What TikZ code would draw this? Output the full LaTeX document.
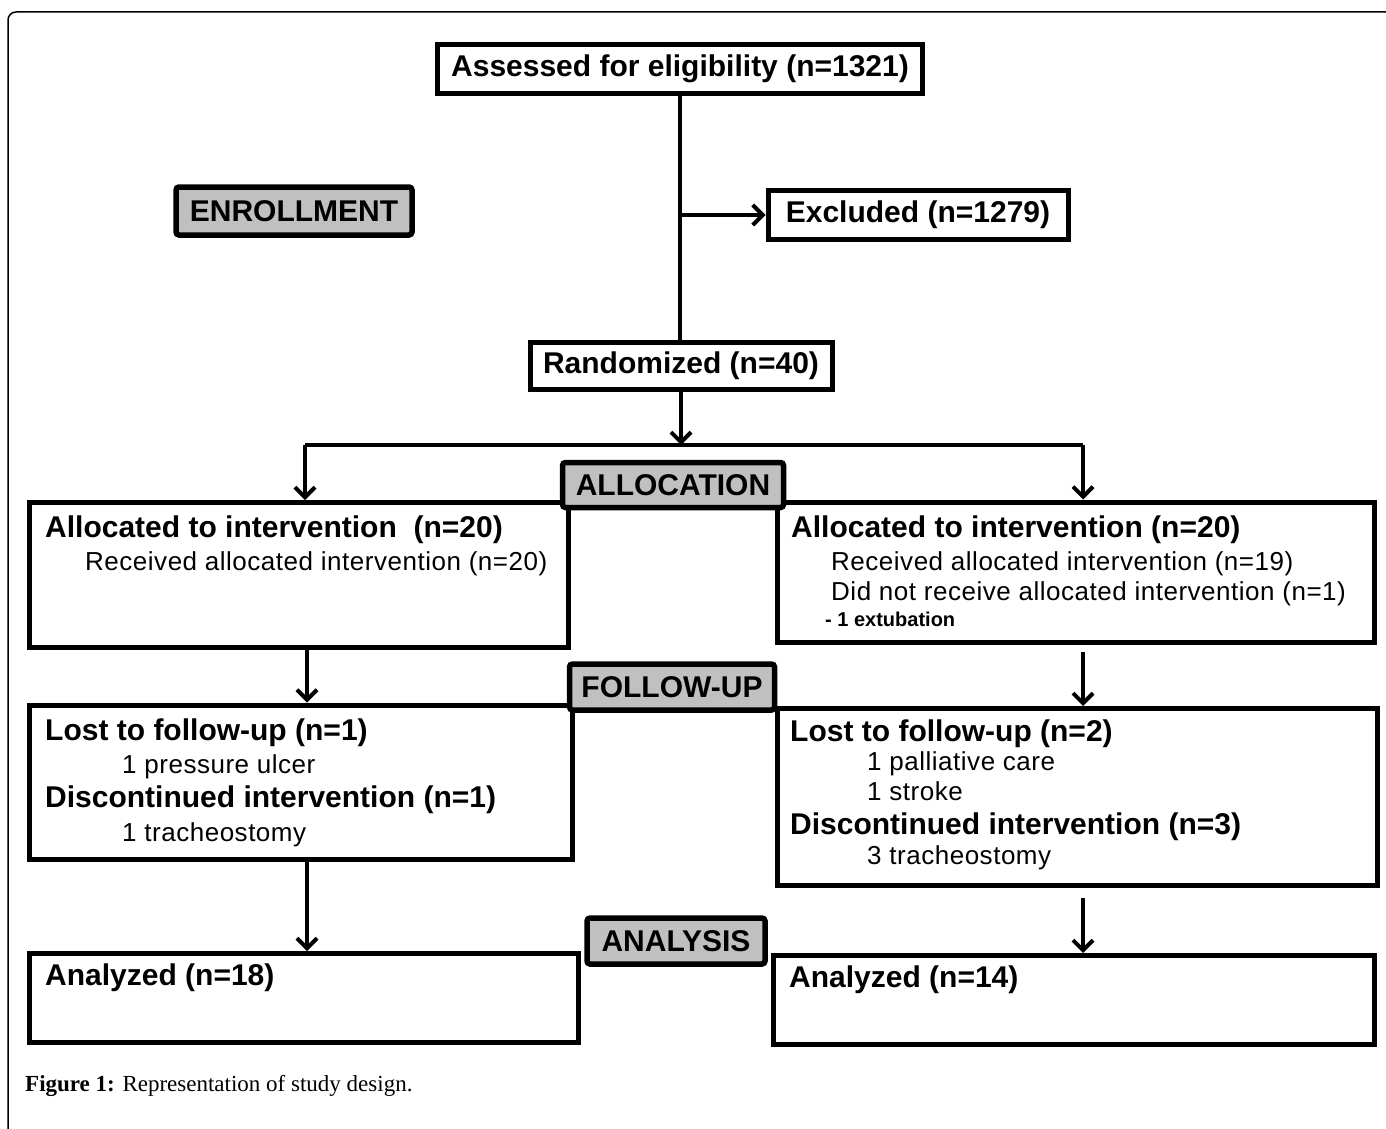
\documentclass[tikz,border=0pt]{standalone}
\usepackage{fontspec}
\setmainfont{Liberation Sans}
\newfontfamily\capfont{Liberation Serif}
\usetikzlibrary{arrows.meta}
\definecolor{phase}{RGB}{192,192,192}
\newcommand{\headfont}{\fontsize{30}{35}\selectfont\bfseries}
\newcommand{\subfont}{\fontsize{26}{30}\selectfont\addfontfeature{LetterSpace=2}}

\begin{document}
\begin{tikzpicture}[x=1pt, y=-1pt,
  box/.style={draw, line width=5pt, fill=white, inner sep=0pt, font=\headfont},
  phasebox/.style={draw, line width=5.5pt, fill=phase, rounded corners=3pt, inner sep=0pt, font=\headfont},
  line/.style={line width=4pt},
  arr/.style={line width=4pt, -{Straight Barb[length=10pt, width=20pt]}},
  head/.style={anchor=base west, inner sep=0pt, font=\headfont},
  sub/.style={anchor=base west, inner sep=0pt, font=\subfont}]
\useasboundingbox (0,0) rectangle (1386,1129);
\draw[line width=1.5pt, rounded corners=8pt] (8,1129) -- (8,12) -- (1386,12);

% enrollment
\node[box, minimum width=485, minimum height=49] (assess) at (680,69) {Assessed for eligibility (n=1321)};
\node[box, minimum width=300, minimum height=49] (excl) at (918,215) {Excluded (n=1279)};
\node[box, minimum width=302, minimum height=47] (rand) at (681,366) {Randomized (n=40)};
\node[phasebox, minimum width=236, minimum height=48] (enrol) at (294,211) {ENROLLMENT};

% group boxes
\node[box, minimum width=539, minimum height=145] (lalloc) at (299,575) {};
\node[box, minimum width=597, minimum height=140] (ralloc) at (1076,572) {};
\node[box, minimum width=543, minimum height=154] (lfollow) at (301,782) {};
\node[box, minimum width=600, minimum height=177] (rfollow) at (1077,797) {};
\node[box, minimum width=549, minimum height=89] (lanal) at (304,998) {};
\node[box, minimum width=601, minimum height=89] (ranal) at (1074,1000) {};

% phase labels
\node[phasebox, minimum width=221, minimum height=45] (alloc) at (673,485) {ALLOCATION};
\node[phasebox, minimum width=205, minimum height=46] (follow) at (672,687) {FOLLOW-UP};
\node[phasebox, minimum width=178, minimum height=46] (anal) at (676,941) {ANALYSIS};

% connectors
\coordinate (splitl) at (305,445);
\coordinate (splitr) at (1083,445);
\coordinate (colL) at (307,0);
\coordinate (colR) at (1083,0);
\draw[line] (assess.south) -- (assess.south |- rand.north);
\draw[arr] (assess.south |- excl.west) -- (excl.west);
\draw[arr] (rand.south) -- (rand.south |- splitl);
\draw[line] (splitl) -- (splitr);
\draw[arr] (splitl) -- (splitl |- lalloc.north);
\draw[arr] (splitr) -- (splitr |- ralloc.north);
\draw[arr] (colL |- lalloc.south) -- (colL |- lfollow.north);
\draw[arr, shorten <=7pt] (colR |- ralloc.south) -- (colR |- rfollow.north);
\draw[arr] (colL |- lfollow.south) -- (colL |- lanal.north);
\draw[arr, shorten <=10pt] (colR |- rfollow.south) -- (colR |- ranal.north);

% box texts
\node[head] (lalloctitle) at (45,537) {Allocated to intervention\ \ (n=20)};
\node[sub] (lallocrec) at (85,570) {Received allocated intervention (n=20)};
\node[head] (ralloctitle) at (791,537) {Allocated to intervention (n=20)};
\node[sub] (rallocrec) at (831,570) {Received allocated intervention (n=19)};
\node[sub] (rallocnot) at (831,600) {Did not receive allocated intervention (n=1)};
\node[anchor=base west, inner sep=0pt, font=\fontsize{20}{23}\selectfont\bfseries] (rallocext) at (825,626) {- 1 extubation};

\node[head] (llost) at (45,740) {Lost to follow-up (n=1)};
\node[sub] (lulcer) at (122,773) {1 pressure ulcer};
\node[head] (ldisc) at (45,807) {Discontinued intervention (n=1)};
\node[sub] (ltrach) at (122,841) {1 tracheostomy};

\node[head] (rlost) at (790,741) {Lost to follow-up (n=2)};
\node[sub] (rcare) at (867,770) {1 palliative care};
\node[sub] (rstroke) at (867,800) {1 stroke};
\node[head] (rdisc) at (790,834) {Discontinued intervention (n=3)};
\node[sub] (rtrach) at (867,864) {3 tracheostomy};

\node[head] (lanaltext) at (45,985) {Analyzed (n=18)};
\node[head] (ranaltext) at (789,987) {Analyzed (n=14)};

\node[anchor=base west, inner sep=0pt, font=\fontsize{23}{27}\capfont] (caption) at (25,1091) {\textbf{Figure 1:} Representation of study design.};
\end{tikzpicture}
\end{document}
